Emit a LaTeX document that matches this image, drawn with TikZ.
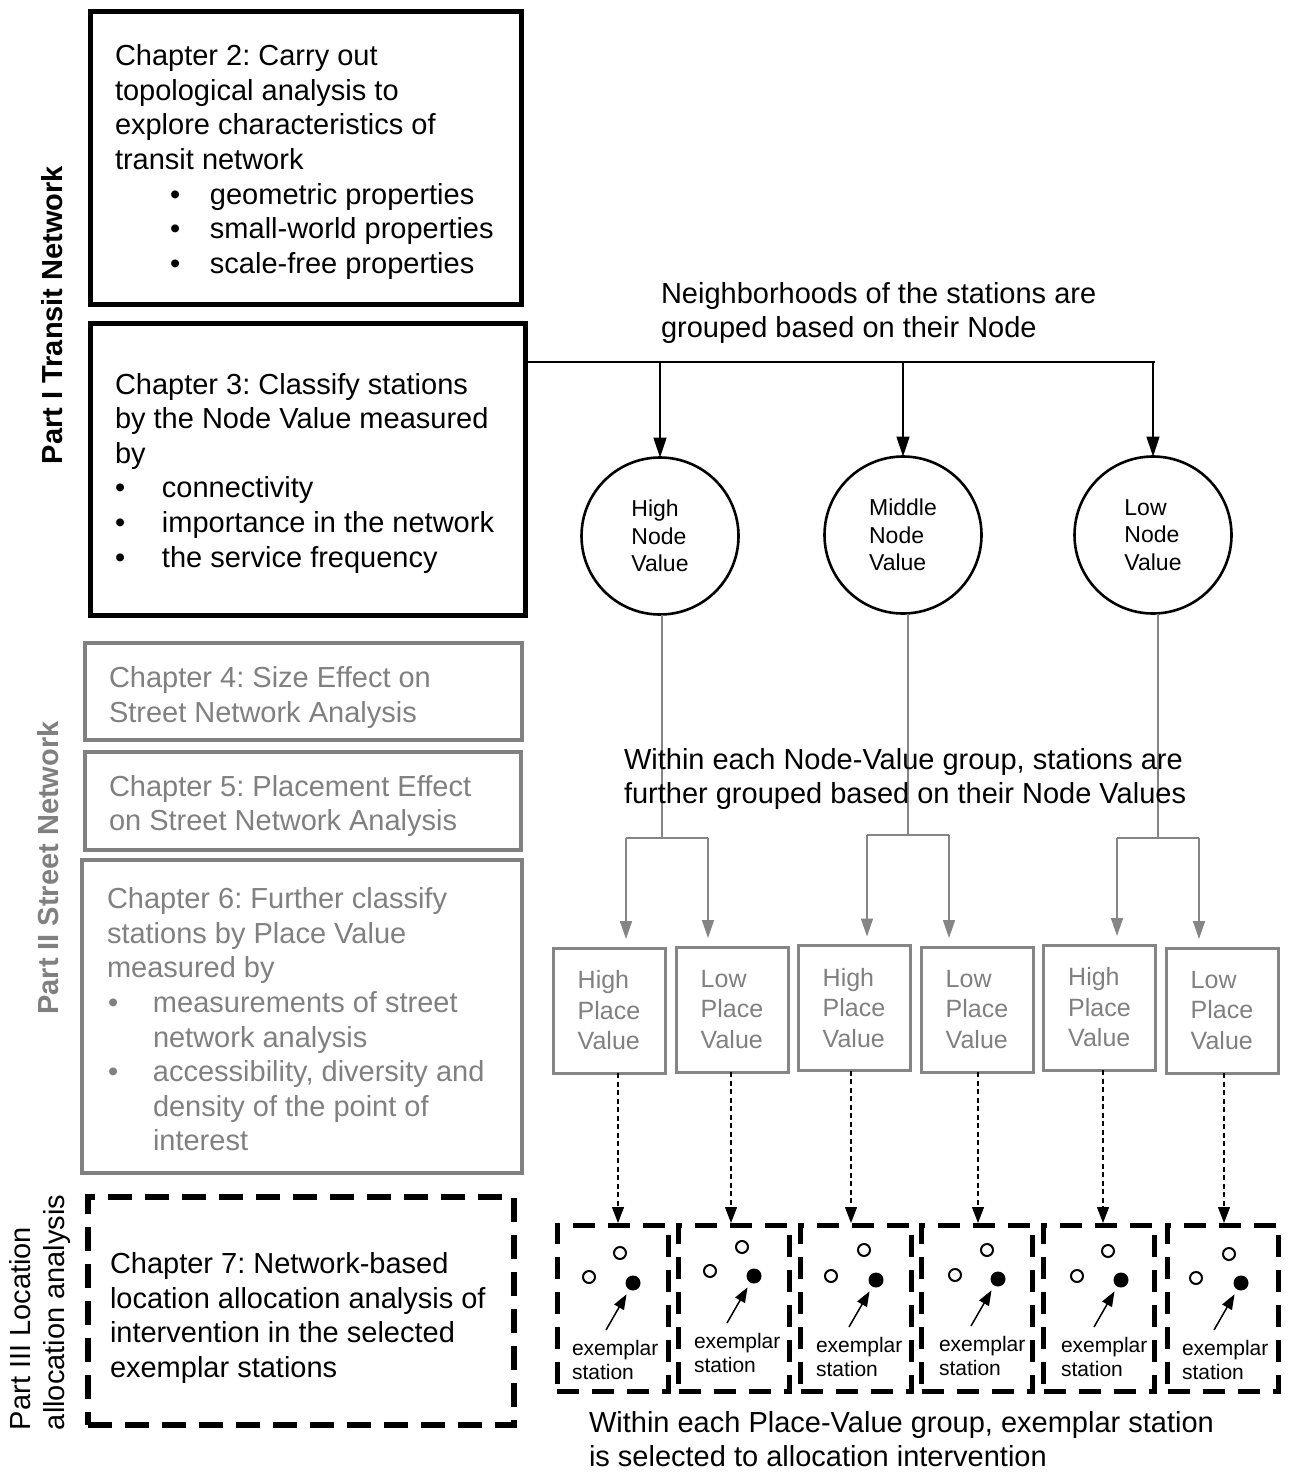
\documentclass[tikz,border=0pt]{standalone}
\usepackage{fontspec}
\setmainfont{Liberation Sans}
\usetikzlibrary{arrows.meta,calc}
\definecolor{chgray}{RGB}{128,128,128}
\definecolor{pvgray}{RGB}{133,133,133}
\frenchspacing

\begin{document}
\begin{tikzpicture}[x=1pt,y=-1pt,
  every node/.style={inner sep=0pt, outer sep=0pt},
  bigtext/.style={font=\fontsize{29}{34.6}\selectfont, align=left},
  chtext/.style={bigtext, anchor=west},
  boxblack/.style={draw=black, line width=5pt},
  boxgray/.style={draw=chgray, line width=4.5pt},
  boxdash/.style={draw=black, line width=5.5pt, dash pattern=on 24pt off 13pt},
  nvcircle/.style={circle, draw=black, line width=2.6pt, minimum size=157pt,
    font=\fontsize{23}{27.5}\selectfont, align=left},
  pvbox/.style={draw=pvgray, line width=3pt, minimum width=112pt, minimum height=125pt,
    text=chgray, font=\fontsize{25}{30.5}\selectfont, align=left},
  exbox/.style={draw=black, line width=5pt, dash pattern=on 22pt off 13pt,
    minimum width=111pt, minimum height=166pt},
  opendot/.style={circle, draw=black, line width=2pt, minimum size=12pt},
  filldot/.style={circle, fill=black, minimum size=15pt},
  extext/.style={font=\fontsize{21}{24}\selectfont, align=left, anchor=west},
  blkline/.style={draw=black, line width=2pt},
  blkarrow/.style={draw=black, line width=1.5pt, -{Triangle[length=20pt,width=13pt]}},
  grayline/.style={draw=pvgray, line width=1.5pt},
  grayarrow/.style={draw=pvgray, line width=1.5pt, shorten >=9pt,
    -{Triangle[length=18pt,width=12pt,fill=pvgray]}},
  dasharrow/.style={draw=black, line width=1.2pt, dash pattern=on 5pt off 3.5pt,
    shorten >=2pt, -{Triangle[length=16pt,width=12pt]}},
  exarrow/.style={draw=black, line width=1.5pt, shorten >=5.5pt,
    -{Triangle[length=15pt,width=11pt]}},
]
\useasboundingbox (0,0) rectangle (1293,1472);

% ---- part labels ----
\node[rotate=90, font=\fontsize{29}{34.6}\selectfont\bfseries] (part1) at (52,315) {Part I Transit Network};
\node[rotate=90, text=chgray, font=\fontsize{29}{34.6}\selectfont\bfseries] (part2) at (48,868) {Part II Street Network};
\node[rotate=90, anchor=west, bigtext] (part3) at (40,1430) {Part III Location\\allocation analysis};

% ---- chapter boxes ----
\node[boxblack, minimum width=431pt, minimum height=292pt] (ch2) at (305.5,158) {};
\node[boxblack, minimum width=435pt, minimum height=292pt] (ch3) at (307.5,469) {};
\node[boxgray, minimum width=437pt, minimum height=97pt] (ch4) at (303.5,691.5) {};
\node[boxgray, minimum width=436pt, minimum height=98pt] (ch5) at (303,801) {};
\node[boxgray, minimum width=440pt, minimum height=313pt] (ch6) at (302,1016.5) {};
\node[boxdash, minimum width=426pt, minimum height=228pt] (ch7) at (301,1311) {};

% text blocks sit a few points below each box's centre line
\node[chtext] (ch2t) at ([shift={(25pt,-4pt)}]ch2.west) {Chapter 2: Carry out\\
topological analysis to\\
explore characteristics of\\
transit network\\
\makebox[95pt][l]{\hspace*{55pt}\textbullet}geometric properties\\
\makebox[95pt][l]{\hspace*{55pt}\textbullet}small-world properties\\
\makebox[95pt][l]{\hspace*{55pt}\textbullet}scale-free properties};

\node[chtext] (ch3t) at ([shift={(25pt,-4pt)}]ch3.west) {Chapter 3: Classify stations\\
by the Node Value measured\\
by\\
\makebox[47pt][l]{\textbullet}connectivity\\
\makebox[47pt][l]{\textbullet}importance in the network\\
\makebox[47pt][l]{\textbullet}the service frequency};

\node[chtext, text=chgray] (ch4t) at ([shift={(24pt,-6pt)}]ch4.west) {Chapter 4: Size Effect on\\Street Network Analysis};
\node[chtext, text=chgray] (ch5t) at ([shift={(24pt,-5pt)}]ch5.west) {Chapter 5: Placement Effect\\on Street Network Analysis};
\node[chtext, text=chgray] (ch6t) at ([shift={(25pt,-3pt)}]ch6.west) {Chapter 6: Further classify\\
stations by Place Value\\
measured by\\
\makebox[46pt][l]{\hspace*{1pt}\textbullet}measurements of street\\
\hspace*{46pt}network analysis\\
\makebox[46pt][l]{\hspace*{1pt}\textbullet}accessibility, diversity and\\
\hspace*{46pt}density of the point of\\
\hspace*{46pt}interest};
\node[chtext] (ch7t) at ([shift={(22pt,-7pt)}]ch7.west) {Chapter 7: Network-based\\
location allocation analysis of\\
intervention in the selected\\
exemplar stations};

% ---- node value level ----
\node[bigtext, anchor=west] (nbtext) at (661,313) {Neighborhoods of the stations are\\grouped based on their Node};

\node[nvcircle] (hnv) at (660,536) {High\\Node\\Value};
\node[nvcircle] (mnv) at (903,535) {Middle\\Node\\Value};
\node[nvcircle] (lnv) at (1153,535) {Low\\Node\\Value};

\coordinate (split) at (1155,362);
\draw[blkline] (ch3.east |- split) -- (split);
\draw[blkarrow] (hnv.north |- split) -- (hnv.north);
\draw[blkarrow] (mnv.north |- split) -- (mnv.north);
\draw[blkarrow] (lnv.north |- split) -- (lnv.north);

% ---- place value level ----
\foreach \i/\cx/\cy/\t in {1/609/1010.5/High, 2/732/1009.5/Low, 3/854/1008/High,
                           4/977/1009.5/Low, 5/1099.5/1007.5/High, 6/1222/1010.5/Low}
  \node[pvbox] (pv\i) at (\cx,\cy) {\t\\Place\\Value};

\coordinate (hbL) at (626,838);  \coordinate (hbR) at (708,838);
\coordinate (mbL) at (867,835);  \coordinate (mbR) at (949,835);
\coordinate (lbL) at (1117,838); \coordinate (lbR) at (1199,838);

\draw[grayline] ([xshift=2pt]hnv.south) -- ([xshift=2pt]hnv.south |- hbL);
\draw[grayline] ([xshift=5pt]mnv.south) -- ([xshift=5pt]mnv.south |- mbL);
\draw[grayline] ([xshift=5pt]lnv.south) -- ([xshift=5pt]lnv.south |- lbL);
\draw[grayline] (hbL) -- (hbR);
\draw[grayline] (mbL) -- (mbR);
\draw[grayline] (lbL) -- (lbR);
\draw[grayarrow] (hbL) -- (hbL |- pv1.north);
\draw[grayarrow] (hbR) -- (hbR |- pv2.north);
\draw[grayarrow] (mbL) -- (mbL |- pv3.north);
\draw[grayarrow] (mbR) -- (mbR |- pv4.north);
\draw[grayarrow] (lbL) -- (lbL |- pv5.north);
\draw[grayarrow] (lbR) -- (lbR |- pv6.north);

\node[bigtext, anchor=west] (wntext) at (624,779) {Within each Node-Value group, stations are\\further grouped based on their Node Values};

% ---- exemplar level ----
\foreach \i/\cx in {1/612.5, 2/734, 3/856, 4/977, 5/1099, 6/1223}
  \node[exbox] (ex\i) at (\cx,1308) {};

\foreach \i/\s in {1/9, 2/-1, 3/-3, 4/1, 5/3.5, 6/2}
  \draw[dasharrow] ([xshift=\s pt]pv\i.south) -- ([xshift=\s pt]pv\i.south |- ex\i.north);

\foreach \i/\fx/\fy/\ax/\ay/\bx/\by/\tx/\ty in {
    1/633/1283/620/1253/589/1277/572/1360,
    2/754/1276/742/1247/710/1271/694/1353,
    3/876/1280/864/1250/831/1276/816/1357,
    4/998/1279/987/1250/955/1275/939/1356,
    5/1121/1280/1108/1251/1077/1276/1061/1357,
    6/1241/1283/1229/1254/1196/1278/1182/1360}{
  \node[filldot] (fd\i) at (\fx,\fy) {};
  \node[opendot] (oa\i) at (\ax,\ay) {};
  \node[opendot] (ob\i) at (\bx,\by) {};
  \node[extext] (et\i) at (\tx,\ty) {exemplar\\station};
  \draw[exarrow] ($(fd\i)+(-27,47)$) -- (fd\i);
}

\node[bigtext, anchor=west] (wptext) at (589,1439) {Within each Place-Value group, exemplar station\\is selected to allocation intervention};

\end{tikzpicture}
\end{document}
